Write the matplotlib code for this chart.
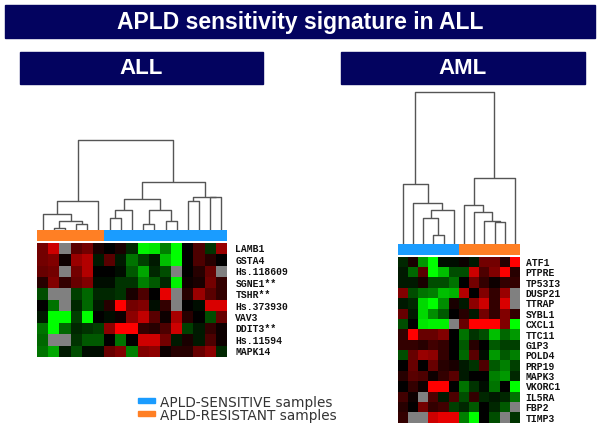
import numpy as np
import matplotlib
matplotlib.use("Agg")
import matplotlib.pyplot as plt
from matplotlib.colors import LinearSegmentedColormap, ListedColormap
from matplotlib.patches import Rectangle

W, H = 600, 430

# ---------------- data ----------------
all_genes = ["LAMB1", "GSTA4", "Hs.118609", "SGNE1**", "TSHR**",
             "Hs.373930", "VAV3", "DDIT3**", "Hs.11594", "MAPK14"]
# 1 = APLD-RESISTANT, 0 = APLD-SENSITIVE
all_groups = [1, 1, 1, 1, 1, 1, 0, 0, 0, 0, 0, 0, 0, 0, 0, 0, 0]
nan = np.nan
all_expr = [
    [0.45, 0.8, nan, 0.35, 0.45, 0.1, 0.0, 0.1, -0.15, -0.95, -0.9, -0.5, -1.0, 0.0, 0.3, -0.2, 0.6],
    [0.45, 0.5, 0.05, 0.6, 0.7, -0.1, 0.35, -0.1, -0.45, -0.25, -0.1, -0.75, -1.0, 0.0, 0.3, 0.15, 0.0],
    [0.4, 0.45, nan, 0.45, 0.7, 0.0, 0.0, -0.05, -0.35, -0.65, -0.15, -0.3, nan, 0.0, 0.15, 0.4, nan],
    [0.15, 0.5, 0.2, 0.4, 0.5, -0.05, -0.05, -0.2, -0.2, -0.5, -0.35, -0.15, -0.95, 0.05, 0.1, 0.45, 0.2],
    [-0.3, nan, nan, -0.25, -0.4, -0.15, -0.15, -0.2, 0.1, 0.3, 0.0, 0.9, nan, 0.15, 0.6, 0.35, 0.2],
    [0.0, -0.45, nan, -0.15, -0.4, -0.1, 0.15, 1.0, 0.45, 0.5, -0.05, 0.2, nan, 0.0, -0.05, 0.85, 0.85],
    [-0.1, -1.0, -1.0, -0.25, -1.0, 0.0, -0.05, 0.05, 0.55, 0.75, 0.35, 0.05, 0.65, 0.15, 0.0, -0.3, 0.4],
    [-0.45, -1.0, -0.4, -0.15, -0.2, -0.25, 0.55, 1.0, 1.0, 0.2, 0.15, 0.3, 0.8, -0.25, -0.1, 0.2, 0.05],
    [-0.4, nan, nan, -0.2, -0.35, -0.35, 0.0, -0.45, 0.0, 0.8, 0.8, 0.45, -0.1, 0.1, -0.1, 0.3, 0.05],
    [-0.45, -0.65, -0.1, -0.3, -0.05, -0.05, 0.4, 0.5, -0.5, 0.5, 0.55, 0.05, 0.15, 0.15, 0.4, 0.55, -0.15],
]
# merges: (child a, child b, distance); ids >= n_cols are earlier merges
all_merges = [
    (1, 2, 2.3), (3, 4, 5.7), (17, 18, 9.0), (0, 19, 15.7), (20, 5, 29.0),
    (6, 7, 12.3), (22, 8, 20.0), (9, 10, 5.7), (11, 12, 9.0), (24, 25, 19.5),
    (23, 26, 30.7), (13, 14, 29.0), (15, 16, 32.3), (28, 29, 33.0),
    (27, 30, 47.3), (21, 31, 89.7),
]

aml_genes = ["ATF1", "PTPRE", "TP53I3", "DUSP21", "TTRAP", "SYBL1", "CXCL1", "TTC11",
             "G1P3", "POLD4", "PRP19", "MAPK3", "VKORC1", "IL5RA", "FBP2", "TIMP3"]
aml_groups = [0, 0, 0, 0, 0, 0, 1, 1, 1, 1, 1, 1]
aml_expr = [
    [-0.15, 0.1, -0.6, -1.0, -0.05, -0.05, 0.05, -0.1, 0.45, 0.45, 0.15, 1.0],
    [-0.1, -0.4, 0.35, -1.0, -0.75, -0.3, -0.3, 0.8, 0.3, 0.5, 1.0, 0.15],
    [-0.1, -0.1, 0.1, -0.3, -0.3, -0.45, 0.0, 0.45, 0.2, 0.05, 0.2, 0.2],
    [0.5, -0.3, -0.45, -0.5, -0.75, -0.7, 0.7, 0.0, 0.5, 0.2, 0.6, nan],
    [-0.1, -0.15, -0.85, -1.0, -0.55, 0.1, -0.1, 0.55, 0.8, 0.2, 0.85, nan],
    [0.4, -0.1, -0.85, -0.55, -0.35, 0.0, 0.15, -0.1, 0.45, 0.2, 0.5, 0.2],
    [-0.3, 0.0, -0.9, -0.95, -0.95, nan, 0.4, 1.0, 1.0, 1.0, 0.5, -1.0],
    [0.2, 1.0, 0.4, 0.4, 0.5, 0.0, -0.45, -0.2, -0.3, -0.75, -0.4, -0.6],
    [0.2, 0.2, 0.15, 0.25, 0.2, 0.0, -0.35, 0.15, 0.0, -0.35, -0.25, -0.25],
    [-0.3, 0.4, 0.6, 0.55, 0.2, 0.0, -0.4, 0.35, -0.05, -0.6, -0.35, -0.5],
    [0.0, 0.4, 0.0, 0.4, 0.15, 0.1, -0.1, -0.2, 0.3, -0.35, -0.5, -0.25],
    [0.15, 0.35, 0.3, 0.05, 0.2, 0.35, -0.1, 0.0, 0.0, -0.5, -0.6, -0.15],
    [0.0, 0.2, 0.05, 1.0, 1.0, 0.0, -0.45, -0.2, -0.05, -0.45, 0.0, -1.0],
    [0.25, 0.05, nan, 0.3, -0.1, 0.3, -0.3, 0.2, -0.15, -0.1, -0.15, -0.45],
    [0.15, 0.0, 0.45, 0.2, 0.25, -0.25, -0.15, -0.35, 0.0, -0.15, -0.35, nan],
    [0.2, nan, nan, 0.8, 0.9, 0.9, -0.5, -1.0, 0.0, -0.3, nan, -0.2],
]
aml_merges = [
    (3, 4, 8.7), (2, 12, 26.3), (13, 5, 33.7), (1, 14, 40.7), (0, 15, 59.7),
    (9, 10, 22.0), (8, 17, 22.5), (7, 18, 31.3), (6, 19, 39.0), (20, 11, 65.7),
    (16, 21, 150.7),
]

legend_labels = ["APLD-SENSITIVE samples", "APLD-RESISTANT samples"]

# ---------------- style ----------------
navy = "#03035f"
blue = "#1a9cff"
orange = "#ff7f24"
line_col = "#555555"
cmap = LinearSegmentedColormap.from_list("gkr", [(0, 1, 0), (0, 0, 0), (1, 0, 0)])
cmap.set_bad("#808080")
group_cmap = ListedColormap([blue, orange])


def px_axes(fig, x0, y0, x1, y1):
    return fig.add_axes([x0 / W, 1 - y1 / H, (x1 - x0) / W, (y1 - y0) / H])


def draw_dendro(ax, merges, n):
    pos = {i: i + 0.5 for i in range(n)}
    hgt = {i: 0.0 for i in range(n)}
    for k, (a, b, h) in enumerate(merges):
        ax.plot([pos[a], pos[a], pos[b], pos[b]], [hgt[a], h, h, hgt[b]],
                color=line_col, lw=1.0, clip_on=False, solid_capstyle="butt")
        pos[n + k] = (pos[a] + pos[b]) / 2
        hgt[n + k] = h
    ax.set_xlim(0, n)
    ax.set_ylim(0, max(m[2] for m in merges))
    ax.axis("off")


def draw_heat(ax, data, genes, pad):
    arr = np.ma.masked_invalid(np.array(data))
    ax.pcolormesh(arr, cmap=cmap, vmin=-1, vmax=1)
    ax.set_xlim(0, arr.shape[1])
    ax.set_ylim(arr.shape[0], 0)
    ax.set_xticks([])
    ax.yaxis.tick_right()
    ax.set_yticks(np.arange(len(genes)) + 0.5)
    ax.set_yticklabels(genes, family="Liberation Mono", fontweight="bold",
                       fontsize=7, color="#111111")
    ax.tick_params(axis="y", length=0, pad=pad)
    for s in ax.spines.values():
        s.set_visible(False)


def draw_bar(ax, groups):
    ax.pcolormesh(np.array([groups]), cmap=group_cmap, vmin=0, vmax=1)
    ax.set_xlim(0, len(groups))
    ax.axis("off")


fig = plt.figure(figsize=(6, 4.3), dpi=100)
bg = fig.add_axes([0, 0, 1, 1])
bg.set_xlim(0, W)
bg.set_ylim(H, 0)
bg.axis("off")

# banners
bg.add_patch(Rectangle((5, 5), 590, 33, color=navy))
bg.text(300, 22, "APLD sensitivity signature in ALL", color="white",
        family="Liberation Sans", fontweight="bold", fontsize=16.5,
        ha="center", va="center")
for x0, x1, name in [(20, 263, "ALL"), (341, 585, "AML")]:
    bg.add_patch(Rectangle((x0, 52), x1 - x0, 32, color=navy))
    bg.text((x0 + x1) / 2, 68.5, name, color="white", family="Liberation Sans",
            fontweight="bold", fontsize=16, ha="center", va="center")

# ALL panel
draw_dendro(px_axes(fig, 37, 139.5, 227, 230), all_merges, len(all_groups))
draw_bar(px_axes(fig, 37, 230, 227, 240.5), all_groups)
draw_heat(px_axes(fig, 37, 242.7, 227, 357), all_expr, all_genes, 6)

# AML panel
draw_dendro(px_axes(fig, 397.7, 92.3, 520, 244), aml_merges, len(aml_groups))
draw_bar(px_axes(fig, 397.7, 244, 520, 255), aml_groups)
draw_heat(px_axes(fig, 397.7, 256.7, 520, 422.7), aml_expr, aml_genes, 4)

# legend
for i, (lab, col) in enumerate(zip(legend_labels, [blue, orange])):
    y = 400.5 + i * 13
    bg.add_patch(Rectangle((138, y - 2.5), 17, 5, color=col))
    bg.text(160, y + 2.5, lab, color="#333333", family="DejaVu Sans",
            fontsize=9.8, ha="left", va="center")

fig.savefig("out.png", dpi=100)
